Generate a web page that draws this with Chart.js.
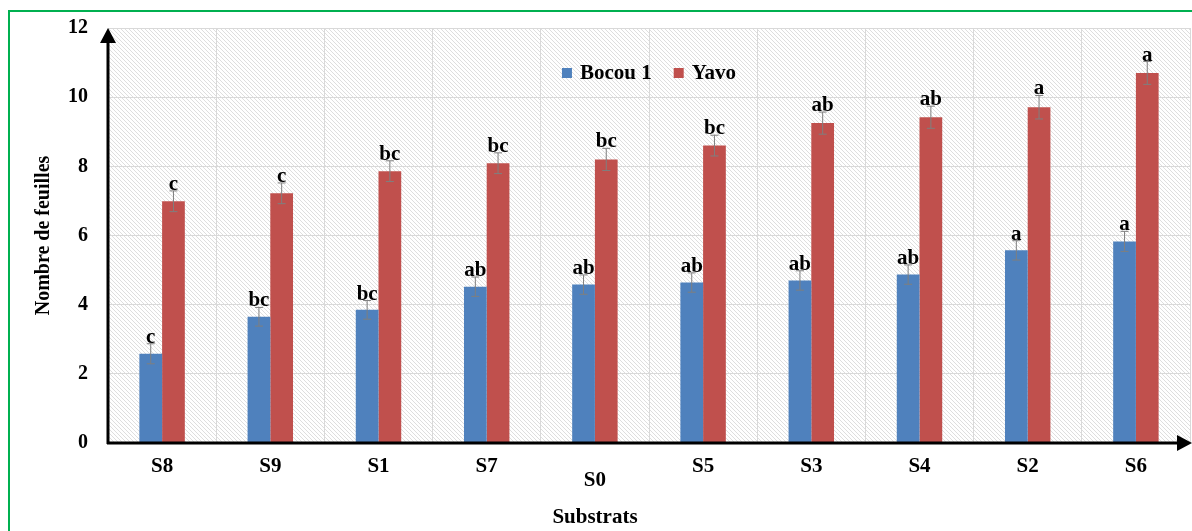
<!DOCTYPE html>
<html lang="fr">
<head>
    <meta charset="UTF-8">
    <title>Nombre de feuilles par substrat</title>
    <script src="https://cdn.jsdelivr.net/npm/chart.js"></script>
    <style>
        body {
            margin: 0;
            padding: 0;
            background-color: #ffffff;
        }
        canvas {
            display: block;
        }
    </style>
</head>
<body>
    <canvas id="leafChart" width="1192" height="531"></canvas>

    <script>
        // Data
        const substrats = ['S8', 'S9', 'S1', 'S7', ['', 'S0'], 'S5', 'S3', 'S4', 'S2', 'S6'];
        const bocou = [2.58, 3.65, 3.85, 4.52, 4.58, 4.64, 4.70, 4.87, 5.57, 5.83];
        const yavo = [6.99, 7.22, 7.86, 8.09, 8.20, 8.60, 9.25, 9.42, 9.71, 10.70];
        const bocouErr = [0.29, 0.27, 0.27, 0.28, 0.28, 0.28, 0.28, 0.28, 0.28, 0.29];
        const yavoErr = [0.30, 0.30, 0.30, 0.30, 0.32, 0.30, 0.32, 0.32, 0.34, 0.33];
        const bocouLetters = ['c', 'bc', 'bc', 'ab', 'ab', 'ab', 'ab', 'ab', 'a', 'a'];
        const yavoLetters = ['c', 'c', 'bc', 'bc', 'bc', 'bc', 'ab', 'ab', 'a', 'a'];
        const yTicks = [0, 2, 4, 6, 8, 10, 12];

        const serif = "'Liberation Serif', 'Times New Roman', serif";
        const errors = [bocouErr, yavoErr];
        const letters = [bocouLetters, yavoLetters];

        // hatched background tile
        function makeHatch() {
            const s = 4;
            const tile = document.createElement('canvas');
            tile.width = s;
            tile.height = s;
            const t = tile.getContext('2d');
            t.strokeStyle = '#dedede';
            t.lineWidth = 1;
            t.beginPath();
            t.moveTo(-1, -1); t.lineTo(s + 1, s + 1);
            t.moveTo(-1, s - 1); t.lineTo(1, s + 1);
            t.moveTo(s - 1, -1); t.lineTo(s + 1, 1);
            t.stroke();
            return tile;
        }

        const decor = {
            id: 'decor',
            beforeDraw(chart) {
                const ctx = chart.ctx;
                const a = chart.chartArea;
                ctx.save();
                // green frame
                ctx.strokeStyle = '#00b050';
                ctx.lineWidth = 2;
                ctx.strokeRect(9, 11, 1300, 700);
                // hatch
                ctx.fillStyle = ctx.createPattern(makeHatch(), 'repeat');
                ctx.fillRect(a.left, a.top, a.right - a.left, a.bottom - a.top);
                ctx.restore();
            },
            afterDatasetsDraw(chart) {
                const ctx = chart.ctx;
                const y = chart.scales.y;
                ctx.save();
                chart.data.datasets.forEach((ds, di) => {
                    const meta = chart.getDatasetMeta(di);
                    meta.data.forEach((bar, i) => {
                        const v = ds.data[i];
                        const e = errors[di][i];
                        const top = y.getPixelForValue(v + e);
                        const bot = y.getPixelForValue(v - e);
                        ctx.strokeStyle = '#7f7f7f';
                        ctx.lineWidth = 1;
                        ctx.beginPath();
                        ctx.moveTo(bar.x, top); ctx.lineTo(bar.x, bot);
                        ctx.moveTo(bar.x - 4, top); ctx.lineTo(bar.x + 4, top);
                        ctx.moveTo(bar.x - 4, bot); ctx.lineTo(bar.x + 4, bot);
                        ctx.stroke();
                        ctx.fillStyle = '#000';
                        ctx.font = 'bold 21px ' + serif;
                        ctx.textAlign = 'center';
                        ctx.textBaseline = 'alphabetic';
                        ctx.fillText(letters[di][i], bar.x, top - 1);
                    });
                });
                ctx.restore();
            },
            afterDraw(chart) {
                const ctx = chart.ctx;
                const a = chart.chartArea;
                ctx.save();
                // axes with arrows
                ctx.strokeStyle = '#000';
                ctx.fillStyle = '#000';
                ctx.lineWidth = 3;
                ctx.beginPath();
                ctx.moveTo(a.left, a.bottom + 1);
                ctx.lineTo(a.left, a.top + 10);
                ctx.moveTo(a.left - 1, a.bottom);
                ctx.lineTo(a.right - 10, a.bottom);
                ctx.stroke();
                ctx.beginPath();
                ctx.moveTo(a.left, a.top);
                ctx.lineTo(a.left - 8, a.top + 15);
                ctx.lineTo(a.left + 8, a.top + 15);
                ctx.closePath();
                ctx.fill();
                ctx.beginPath();
                ctx.moveTo(a.right + 2, a.bottom);
                ctx.lineTo(a.right - 13, a.bottom - 8);
                ctx.lineTo(a.right - 13, a.bottom + 8);
                ctx.closePath();
                ctx.fill();

                // legend
                ctx.font = 'bold 21px ' + serif;
                ctx.textBaseline = 'middle';
                ctx.textAlign = 'left';
                const items = chart.data.datasets.map(d => ({ label: d.label, color: d.backgroundColor }));
                const box = 10, gap = 8, between = 22;
                let total = 0;
                items.forEach((it, k) => {
                    it.w = ctx.measureText(it.label).width;
                    total += box + gap + it.w + (k < items.length - 1 ? between : 0);
                });
                let x = (a.left + a.right) / 2 - total / 2;
                const ly = 73;
                items.forEach(it => {
                    ctx.fillStyle = it.color;
                    ctx.fillRect(x, ly - box / 2, box, box);
                    ctx.fillStyle = '#000';
                    ctx.fillText(it.label, x + box + gap, ly + 1);
                    x += box + gap + it.w + between;
                });

                // axis titles
                ctx.textAlign = 'center';
                ctx.font = 'bold 21px ' + serif;
                ctx.fillText('Substrats', 595, 518);
                ctx.translate(44, (a.top + a.bottom) / 2);
                ctx.rotate(-Math.PI / 2);
                ctx.font = 'bold 20px ' + serif;
                ctx.fillText('Nombre de feuilles', 0, 0);
                ctx.restore();
            }
        };

        const ctx = document.getElementById('leafChart').getContext('2d');
        new Chart(ctx, {
            type: 'bar',
            data: {
                labels: substrats,
                datasets: [
                    { label: 'Bocou 1', data: bocou, backgroundColor: '#4f81bd' },
                    { label: 'Yavo', data: yavo, backgroundColor: '#c0504d' }
                ]
            },
            options: {
                responsive: false,
                animation: false,
                barPercentage: 1,
                categoryPercentage: 0.42,
                layout: {
                    padding: { top: 28, left: 0, right: 2, bottom: 0 }
                },
                plugins: {
                    legend: { display: false },
                    tooltip: { enabled: false }
                },
                scales: {
                    x: {
                        grid: { color: '#d9d9d9', drawTicks: false },
                        border: { display: false },
                        ticks: {
                            color: '#000',
                            padding: 17,
                            font: { family: serif, size: 21, weight: 'bold', lineHeight: '14px' }
                        },
                        afterFit(scale) { scale.height = 88; }
                    },
                    y: {
                        min: 0,
                        max: 12,
                        afterBuildTicks(scale) {
                            scale.ticks = yTicks.map(v => ({ value: v }));
                        },
                        grid: { color: '#d9d9d9', drawTicks: false },
                        border: { display: false },
                        ticks: {
                            color: '#000',
                            padding: 20,
                            font: { family: serif, size: 20, weight: 'bold' }
                        },
                        afterFit(scale) {
                            scale.width = 108;
                            scale.paddingTop = 0;
                            scale.paddingBottom = 0;
                        }
                    }
                }
            },
            plugins: [decor]
        });
    </script>
</body>
</html>
